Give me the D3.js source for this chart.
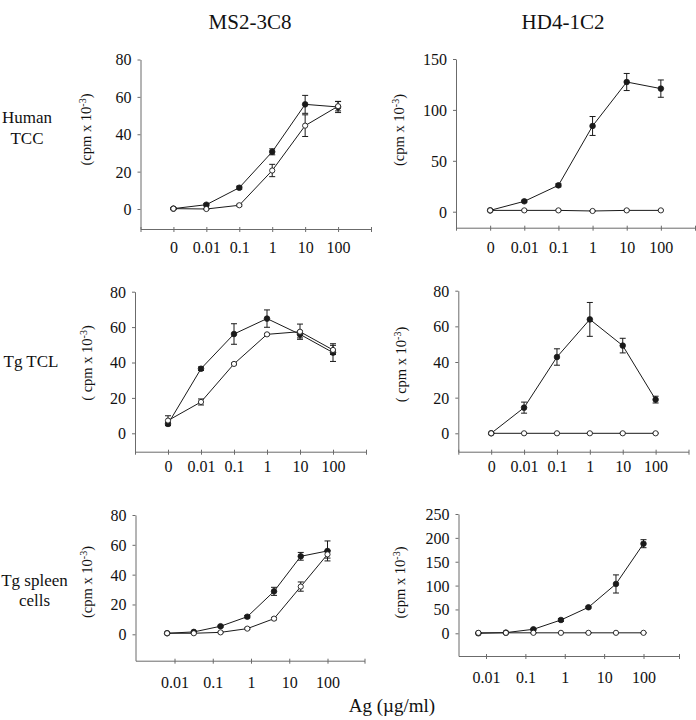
<!DOCTYPE html>
<html><head><meta charset="utf-8">
<script src="https://cdn.jsdelivr.net/npm/d3@7/dist/d3.min.js"></script>
<style>
html,body{margin:0;padding:0;background:#fff;}
</style></head>
<body><svg id="c" width="696" height="720" font-family="'Liberation Serif','Times New Roman','DejaVu Serif',serif"></svg>
<script>
// ---------- data ----------
const columnTitles = ["MS2-3C8", "HD4-1C2"];
const rowLabels = [["Human", "TCC"], ["Tg TCL"], ["Tg spleen", "cells"]];
const catLabels = ["0", "0.01", "0.1", "1", "10", "100"];
const logDoses = [0.0064, 0.032, 0.16, 0.8, 4, 20, 100];
const logTickValues = [0.01, 0.1, 1, 10, 100];
const logTickLabels = ["0.01", "0.1", "1", "10", "100"];
const xTitle = "Ag (\u00b5g/ml)";

const yTicks80 = [0, 20, 40, 60, 80];
const yTicks150 = [0, 50, 100, 150];
const yTicks250 = [0, 50, 100, 150, 200, 250];

// Human TCC, MS2-3C8
const tlFilled = [0.2, 2.3, 11.4, 30.6, 56.0, 54.6];
const tlFilledErr = [0.5, 0.6, 0.8, 1.6, 4.8, 3.0];
const tlOpen = [0.2, 0.0, 2.0, 20.6, 44.6, 55.0];
const tlOpenErr = [0.3, 0.3, 0.5, 3.3, 5.8, 2.5];
// Human TCC, HD4-1C2
const trFilled = [1.3, 10.2, 25.9, 84.2, 127.4, 120.9];
const trFilledErr = [0.8, 1.0, 1.5, 9.3, 8.4, 8.5];
const trOpen = [1.3, 1.3, 1.3, 0.7, 1.3, 1.3];
const trOpenErr = [0.4, 0.4, 0.4, 0.4, 0.4, 0.4];
// Tg TCL, MS2-3C8
const mlFilled = [5.3, 36.5, 56.1, 64.8, 55.9, 45.6];
const mlFilledErr = [1.0, 1.0, 5.8, 4.9, 2.0, 5.0];
const mlOpen = [7.2, 17.7, 39.2, 55.9, 57.4, 47.1];
const mlOpenErr = [2.7, 1.7, 0.5, 0.5, 4.3, 2.6];
// Tg TCL, HD4-1C2
const mrFilled = [0.0, 14.4, 42.8, 63.9, 49.2, 18.9];
const mrFilledErr = [0.3, 3.1, 4.6, 9.5, 4.1, 1.9];
const mrOpen = [0.0, 0.0, 0.0, 0.0, 0.0, 0.0];
const mrOpenErr = [0.2, 0.2, 0.2, 0.2, 0.2, 0.2];
// Tg spleen cells, MS2-3C8
const blFilled = [0.7, 1.6, 5.4, 11.8, 28.8, 52.3, 55.9];
const blFilledErr = [0.3, 0.4, 0.6, 0.8, 2.7, 2.6, 6.7];
const blOpen = [0.7, 0.7, 1.3, 3.8, 10.5, 32.0, 53.6];
const blOpenErr = [0.3, 0.3, 0.3, 0.5, 0.8, 3.1, 2.5];
// Tg spleen cells, HD4-1C2
const brFilled = [0.0, 1.4, 8.4, 27.9, 54.5, 103.4, 187.8];
const brFilledErr = [0.5, 0.5, 1.5, 3.0, 2.0, 19.0, 8.4];
const brOpen = [1.0, 1.0, 1.0, 1.0, 1.0, 1.0, 1.0];
const brOpenErr = [0.5, 0.5, 0.5, 0.5, 0.5, 0.5, 0.5];

// ---------- layout ----------
const FONT = "'Liberation Serif','Times New Roman','DejaVu Serif',serif";
const panels = [
  {kind:"cat", filled:tlFilled, fErr:tlFilledErr, open:tlOpen, oErr:tlOpenErr, ymax:80, ticks:yTicks80,
   yx:140.5, xEnd:371, yTop:59.5, yZero:209, axisY:229, lblOff:24, ylab:"(cpm x 10", ylx:90.5, yly:129.5},
  {kind:"cat", filled:trFilled, fErr:trFilledErr, open:trOpen, oErr:trOpenErr, ymax:150, ticks:yTicks150,
   yx:456, xEnd:695, yTop:59, yZero:211.7, axisY:227.7, lblOff:25.5, ylab:"(cpm x 10", ylx:403.5, yly:130},
  {kind:"cat", filled:mlFilled, fErr:mlFilledErr, open:mlOpen, oErr:mlOpenErr, ymax:80, ticks:yTicks80,
   yx:135, xEnd:366, yTop:291.7, yZero:433.3, axisY:451.7, lblOff:20, ylab:"( cpm x 10", ylx:91.5, yly:363},
  {kind:"cat", filled:mrFilled, fErr:mrFilledErr, open:mrOpen, oErr:mrOpenErr, ymax:80, ticks:yTicks80,
   yx:458.3, xEnd:688.5, yTop:290.7, yZero:433.3, axisY:451.7, lblOff:20, ylab:"( cpm x 10", ylx:406, yly:364.5},
  {kind:"log", filled:blFilled, fErr:blFilledErr, open:blOpen, oErr:blOpenErr, ymax:80, ticks:yTicks80,
   yx:135.5, xEnd:364.5, x01:174.5, x100:327.5, yTop:515, yZero:634.3, axisY:660.7, lblOff:27, ylab:"(cpm x 10", ylx:91.5, yly:582},
  {kind:"log", filled:brFilled, fErr:brFilledErr, open:brOpen, oErr:brOpenErr, ymax:250, ticks:yTicks250,
   yx:458.5, xEnd:679, x01:486, x100:643.5, yTop:514, yZero:633.3, axisY:656, lblOff:27, ylab:"(cpm x 10", ylx:405, yly:582.5}
];

const svg = d3.select("#c");
const axisColor = "#6b6b6b";
const inkColor = "#1a1a1a";

// column titles
svg.selectAll("text.coltitle").data(columnTitles).join("text")
  .attr("class","coltitle")
  .attr("x",(d,i)=> i===0 ? 250 : 563).attr("y",29)
  .attr("text-anchor","middle").attr("font-family",FONT).attr("font-size",21).attr("fill","#111").text(d=>d);

// row labels
const rowPos = [{x:27, y:[122.5,143.5]}, {x:31, y:[366.5]}, {x:34.5, y:[585.5,605.5]}];
rowLabels.forEach((lines,r)=>{
  lines.forEach((t,k)=>{
    svg.append("text").attr("x",rowPos[r].x).attr("y",rowPos[r].y[k])
      .attr("text-anchor","middle").attr("font-family",FONT).attr("font-size",17).attr("fill","#111").text(t);
  });
});

// x title
svg.append("text").attr("x",392).attr("y",712).attr("text-anchor","middle")
  .attr("font-family",FONT).attr("font-size",19).attr("fill","#111").text(xTitle);

panels.forEach(p=>{
  const g = svg.append("g");
  const yBase = d3.scaleLinear().domain([0,p.ymax]).range([p.yZero,p.yTop]);
  const yMin = yBase.invert(p.axisY);
  const y = d3.scaleLinear().domain([yMin,p.ymax]).range([p.axisY,p.yTop]);

  let x, xAxisScale, xs, tickVals, tickFmt;
  if(p.kind==="cat"){
    x = d3.scaleLinear().domain([-1,6]).range([p.yx,p.xEnd]);
    xAxisScale = x;
    xs = p.filled.map((_,i)=>i);
    tickVals = d3.range(-1,7);
    tickFmt = i => (i>=0 && i<catLabels.length) ? catLabels[i] : "";
  } else {
    x = d3.scaleLog().domain([0.01,100]).range([p.x01,p.x100]);
    xAxisScale = d3.scaleLog().domain([x.invert(p.yx), x.invert(p.xEnd)]).range([p.yx,p.xEnd]);
    xs = logDoses;
    tickVals = logTickValues.concat([x.invert(p.xEnd)]);
    tickFmt = v => { const k = logTickValues.indexOf(v); return k>=0 ? logTickLabels[k] : ""; };
  }

  const xa = g.append("g").attr("transform",`translate(0,${p.axisY})`)
    .call(d3.axisBottom(xAxisScale).tickValues(tickVals).tickFormat(tickFmt).tickSizeOuter(0));
  xa.attr("font-family",FONT).attr("font-size",16);
  xa.select(".domain").attr("stroke",axisColor);
  xa.selectAll(".tick line").attr("stroke",axisColor).attr("y1",-2).attr("y2",3);
  xa.selectAll(".tick text").attr("y",p.lblOff).attr("dy",null).attr("fill","#111");

  const ya = g.append("g").attr("transform",`translate(${p.yx},0)`)
    .call(d3.axisLeft(y).tickValues(p.ticks).tickSize(3).tickSizeOuter(0).tickPadding(6));
  ya.attr("font-family",FONT).attr("font-size",16);
  ya.select(".domain").attr("stroke",axisColor);
  ya.selectAll(".tick line").attr("stroke",axisColor);
  ya.selectAll(".tick text").attr("fill","#111").attr("dy","0.34em");

  const yl = g.append("text").attr("transform",`translate(${p.ylx},${p.yly}) rotate(-90)`)
    .attr("text-anchor","middle").attr("font-family",FONT).attr("font-size",14.5).attr("fill","#111");
  yl.append("tspan").text(p.ylab);
  yl.append("tspan").attr("dy",-5).attr("font-size",10).text("-3");
  yl.append("tspan").attr("dy",5).text(")");

  const line = d3.line().x((d,i)=>x(xs[i])).y(d=>y(d));
  [p.filled,p.open].forEach(s=>{
    g.append("path").datum(s).attr("d",line).attr("fill","none")
      .attr("stroke",inkColor).attr("stroke-width",1);
  });

  [[p.filled,p.fErr],[p.open,p.oErr]].forEach(([s,e])=>{
    const eb = g.append("g").attr("stroke",inkColor).attr("stroke-width",1);
    s.forEach((v,i)=>{
      const cx = x(xs[i]), yt = y(v+e[i]), yb = y(v-e[i]);
      eb.append("line").attr("x1",cx).attr("x2",cx).attr("y1",yt).attr("y2",yb);
      eb.append("line").attr("x1",cx-3).attr("x2",cx+3).attr("y1",yt).attr("y2",yt);
      eb.append("line").attr("x1",cx-3).attr("x2",cx+3).attr("y1",yb).attr("y2",yb);
    });
  });

  g.append("g").selectAll("circle").data(p.filled).join("circle")
    .attr("cx",(d,i)=>x(xs[i])).attr("cy",d=>y(d)).attr("r",2.8)
    .attr("fill",inkColor).attr("stroke",inkColor).attr("stroke-width",0.8);
  g.append("g").selectAll("circle").data(p.open).join("circle")
    .attr("cx",(d,i)=>x(xs[i])).attr("cy",d=>y(d)).attr("r",2.6)
    .attr("fill","#fff").attr("stroke",inkColor).attr("stroke-width",0.9);
});
</script>
</body></html>
